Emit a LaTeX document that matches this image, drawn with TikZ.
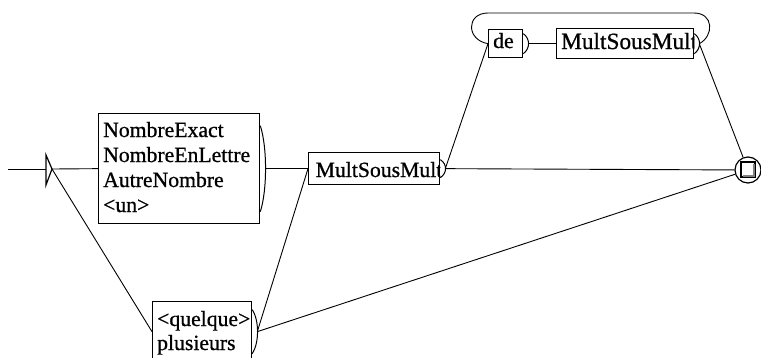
\documentclass[tikz,border=0pt]{standalone}
\usepackage{fontspec}
\setmainfont{Liberation Serif}
\newfontfamily\boxfont[FakeBold=0.8]{Liberation Serif}
\usetikzlibrary{calc}
% right-hand bracket of a box: #1 = box name, #2 = half height
\newcommand\outbrk[2]{%
  \draw[brk] ($(#1.east)+(0,-#2)$) .. controls ($(#1.east)+(7,-#2/2)$)
    and ($(#1.east)+(7,#2/2)$) .. ($(#1.east)+(0,#2)$);
  \coordinate (#1out) at ($(#1.east)+(5,0)$);}
\begin{document}
\begin{tikzpicture}[x=1pt,y=-1pt,
  box/.style={draw, line width=1.3pt, inner sep=0pt, anchor=north west},
  lbl/.style={font=\boxfont\fontsize{21.7}{25}\selectfont, inner sep=0pt, anchor=base west},
  wide/.style={font=\boxfont\fontsize{23.3}{25}\selectfont},
  brk/.style={line width=1pt},
  link/.style={line width=0.9pt}]
\useasboundingbox (0,0) rectangle (761,357);

% initial state
\coordinate (start) at (8,169);
\coordinate (initL) at (46,169);
\coordinate (init) at (52,169);
\draw[line width=1.2pt] (46,155) -- (init) -- (46,185) -- cycle;

% box with the number forms
\node[box, minimum width=161pt, minimum height=110pt] (b1) at (98,113) {};
\node[lbl] (t1a) at (103,137) {NombreExact};
\node[lbl] (t1b) at (103,162) {NombreEnLettre};
\node[lbl] (t1c) at (103,187) {AutreNombre};
\node[lbl] (t1d) at (103,212) {<un>};
\outbrk{b1}{43}

% box <quelque> / plusieurs
\node[box, minimum width=99pt, minimum height=60pt] (q) at (152,301) {};
\node[lbl] (tqa) at (157,326) {<quelque>};
\node[lbl] (tqb) at (157,350) {plusieurs};
\outbrk{q}{22}

% middle MultSousMult box
\node[box, minimum width=131pt, minimum height=32pt] (m1) at (308,152) {};
\begin{scope}
  \clip (m1.north west) rectangle (m1.south east);
  \node[lbl] (tm1) at (315.5,177) {MultSousMult};
\end{scope}
\outbrk{m1}{9}

% upper branch: de MultSousMult
\node[box, minimum width=34pt, minimum height=28pt] (de) at (488,29) {};
\node[lbl] (tde) at (493,48) {de};
\outbrk{de}{10}

\node[box, minimum width=137pt, minimum height=30pt] (m2) at (556,28) {};
\begin{scope}
  \clip (m2.north west) rectangle (m2.south east);
  \node[lbl, wide] (tm2) at (561,49) {MultSousMult};
\end{scope}
\outbrk{m2}{10}

% final state
\node[draw, circle, line width=1.2pt, minimum size=26pt, inner sep=0pt] (fin) at (748,170) {};
\draw[line width=1.2pt] (741,162) rectangle (755,177);
\draw[gray, line width=1.2pt] (754,164) -- (754,176) -- (743,176);

% transitions
\draw[link] (start) -- (initL);
\draw[link] (init) -- (b1.west);
\draw[link] (init) -- (q.west);
\draw[link] (b1out) -- (m1.west);
\draw[link] (qout) -- (m1.west);
\draw[link] (qout) -- (fin);
\draw[link] (m1out) -- (fin);
\draw[link] (m1out) -- (de.west);
\draw[link] (deout) -- (m2.west);
\draw[link] (m2out) -- (fin);
% loop from the upper MultSousMult back to de
\draw[link] (m2out) .. controls (714,36) and (714,13) .. (694,13)
  -- (488,13) .. controls (466,13) and (466,40) .. (de.west);
\end{tikzpicture}
\end{document}
